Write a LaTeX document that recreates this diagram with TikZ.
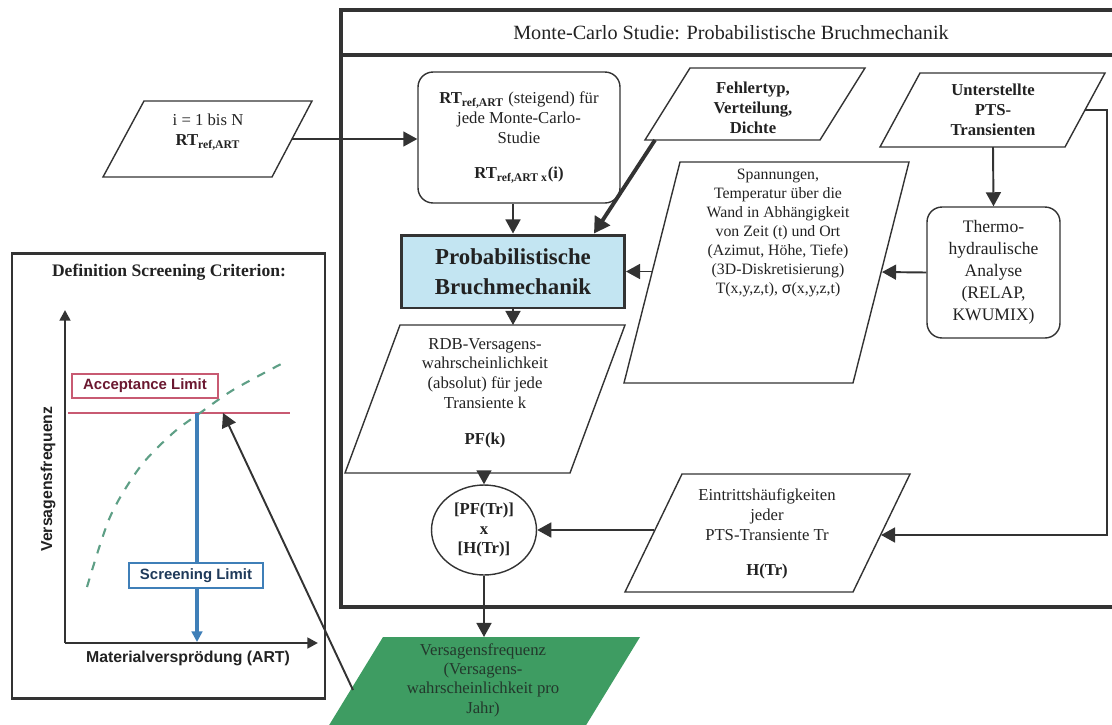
\documentclass[tikz,border=0pt]{standalone}
\usepackage{fontspec}
\setmainfont{Liberation Serif}
\setsansfont{Liberation Sans}
\usetikzlibrary{arrows.meta,shapes.geometric,positioning}
\definecolor{framegray}{HTML}{333333}
\definecolor{inkgray}{HTML}{222222}
\definecolor{probblue}{HTML}{C3E5F2}
\definecolor{resultgreen}{HTML}{3E9C62}
\definecolor{resultink}{HTML}{23382C}
\definecolor{acceptred}{HTML}{C85A72}
\definecolor{acceptink}{HTML}{6B1830}
\definecolor{screenblue}{HTML}{3F7FB8}
\definecolor{screenink}{HTML}{1F3A5A}
\definecolor{curvegreen}{HTML}{5E9F86}
\begin{document}
\begin{tikzpicture}[x=0.02cm,y=-0.02cm,
  txt/.style={align=center,text=inkgray,font=\fontsize{9.5}{11.3}\selectfont},
  bigtxt/.style={align=center,text=inkgray,font=\fontsize{10}{12.5}\selectfont},
  frame/.style={draw=framegray,line width=2.3pt},
  outline/.style={draw=framegray,line width=0.8pt},
  roundbox/.style={outline,rounded corners=0.3cm,txt},
  arr/.style={draw=framegray,line width=1.1pt,-{Triangle[length=8pt,width=8.5pt]}},
  fatarr/.style={draw=framegray,line width=2.2pt,-{Triangle[length=9pt,width=10pt]}},
  axisarr/.style={line width=1.5pt,-{Triangle[length=6pt,width=6pt]}},
  chartlbl/.style={font=\sffamily\bfseries\fontsize{9}{10}\selectfont,text=inkgray},
  limitbox/.style={font=\sffamily\bfseries\fontsize{8.5}{10}\selectfont,line width=1.2pt,fill=white,inner sep=1pt}]
\useasboundingbox (0,0) rectangle (1112,724);

% Monte-Carlo frame
\draw[frame] (341,10) rectangle (1130,607);
\draw[frame] (341,55) -- (1130,55);
\node[font=\fontsize{11.5}{13}\selectfont,text=inkgray] (head) at (731,33) {Monte-Carlo Studie: Probabilistische Bruchmechanik};

% loop input
\draw[outline] (144,101) -- (312,101) -- (272,177) -- (103,177) -- cycle;
\node[txt] (loop) at (208,132) {i = 1 bis N\\ \textbf{RT\textsubscript{ref,ART}}};
\coordinate (loopout) at (292,139);

\node[roundbox,minimum width=4.04cm,minimum height=2.62cm] (rt) at (519,137.5)
  {\textbf{RT\textsubscript{ref,ART}} (steigend) für\\ jede Monte-Carlo-\\ Studie\\[9pt] \textbf{RT\textsubscript{ref,ART x}(i)}};

\node[draw=framegray,line width=1.7pt,fill=probblue,minimum width=4.46cm,minimum height=1.46cm,
  align=center,text=inkgray,font=\bfseries\fontsize{13}{17}\selectfont] (prob) at (513,271.5)
  {Probabilistische\\ Bruchmechanik};

% Fehlertyp
\draw[outline] (690,68) -- (865,68) -- (820,140) -- (645,140) -- cycle;
\node[bigtxt,font=\bfseries\fontsize{9.5}{11.5}\selectfont] (fehler) at (753,108) {Fehlertyp,\\ Verteilung,\\ Dichte};
\coordinate (fehlerout) at (655,140);

% PTS
\draw[outline] (920,73) -- (1105,73) -- (1065,147) -- (880,147) -- cycle;
\node[bigtxt,font=\bfseries\fontsize{9.5}{11.5}\selectfont] (pts) at (993,110) {Unterstellte\\ PTS-\\ Transienten};
\coordinate (ptsout) at (1085,110);

\node[roundbox,bigtxt,minimum width=2.66cm,minimum height=2.62cm] (thermo) at (993.5,272.5)
  {Thermo-\\ hydraulische\\ Analyse\\ (RELAP,\\ KWUMIX)};

% Spannungen
\draw[outline] (680,162) -- (909,162) -- (853,383) -- (624,383) -- cycle;
\node[txt,font=\fontsize{9}{10.8}\selectfont] (spann) at (778,233)
  {Spannungen,\\ Temperatur über die\\ Wand in Abhängigkeit\\ von Zeit (t) und Ort\\ (Azimut, Höhe, Tiefe)\\ (3D-Diskretisierung)\\ T(x,y,z,t), \textsf{σ}(x,y,z,t)};
\coordinate (spannin) at (882,272);
\coordinate (spannout) at (652,271.5);

% RDB
\draw[outline] (400,325) -- (625,325) -- (570,473) -- (345,473) -- cycle;
\node[txt] (rdb) at (485,393)
  {RDB-Versagens-\\ wahrscheinlichkeit\\ (absolut) für jede\\ Transiente k\\[9pt] \textbf{PF(k)}};
\coordinate (rdbtop) at (513,325);
\coordinate (rdbbot) at (484,473);

\node[ellipse,outline,minimum width=2.1cm,minimum height=1.8cm,inner sep=0pt,
  align=center,text=inkgray,font=\bfseries\fontsize{9.5}{11}\selectfont] (prod) at (484,530)
  {{[PF(Tr)]}\\ x\\ {[H(Tr)]}};

% Eintrittshaeufigkeiten
\draw[outline] (682,474) -- (910,474) -- (853,592) -- (625,592) -- cycle;
\node[txt] (eintritt) at (767,534)
  {Eintrittshäufigkeiten\\ jeder\\ PTS-Transiente Tr\\[9pt] \textbf{H(Tr)}};
\coordinate (einin) at (881,535);
\coordinate (einout) at (654,530);

% result
\fill[resultgreen] (383,637) -- (640,637) -- (577,740) -- (320,740) -- cycle;
\node[align=center,text=resultink,font=\fontsize{9.5}{11}\selectfont] (vf) at (483,680)
  {Versagensfrequenz\\ (Versagens-\\ wahrscheinlichkeit pro\\ Jahr)};
\coordinate (vftop) at (484,637);
\coordinate (vfleft) at (353,690);

\draw[arr] (loopout) -- (loopout -| rt.west);
\draw[arr] (rt.south -| rdbtop) -- (prob.north -| rdbtop);
\draw[fatarr] (fehlerout) -- ([xshift=-0.64cm]prob.north east);
\draw[arr] (pts.south |- 0,147) -- (thermo.north);
\draw[arr] (thermo.west) -- (spannin);
\draw[arr] (spannout) -- (prob.east);
\draw[arr] (prob.south -| rdbtop) -- (rdbtop);
\draw[arr] (rdbbot) -- (prod.north);
\draw[arr] (ptsout) -- (1107,110) -- (1107,535) -- (einin);
\draw[arr] (einout) -- (prod.east);
\draw[arr] (prod.south) -- (vftop);

% screening criterion chart
\draw[draw=framegray,line width=1.7pt] (12,253) rectangle (325,698);
\node[font=\bfseries\fontsize{10}{11}\selectfont,text=inkgray] (crittitle) at (169,272) {Definition Screening Criterion:};
\draw[framegray,axisarr] (65,643) -- (65,310);
\draw[framegray,axisarr] (65,643) -- (318,643);
\node[chartlbl,rotate=90] (ylab) at (48,479) {Versagensfrequenz};
\node[chartlbl] (xlab) at (188,658) {Materialversprödung (ART)};
\draw[acceptred,line width=0.8pt] (68,413) -- (290,413);
\draw[curvegreen,line width=1.2pt,dash pattern=on 5pt off 5pt] plot[smooth] coordinates
  {(87,587) (110,517) (140,467) (173,433) (200,413) (233,390) (283,363)};
\coordinate (crit) at (223,413);
\draw[screenblue,line width=1.8pt,-{Triangle[length=6pt,width=6pt]}] (197,413) -- (197,642);
\node[limitbox,draw=acceptred,text=acceptink,minimum width=2.92cm,minimum height=0.48cm] (accept) at (145,386) {Acceptance Limit};
\node[limitbox,draw=screenblue,text=screenink,minimum width=2.68cm,minimum height=0.5cm] (screen) at (196,575.5) {Screening Limit};
\draw[arr] (vfleft) -- (crit);
\end{tikzpicture}
\end{document}
